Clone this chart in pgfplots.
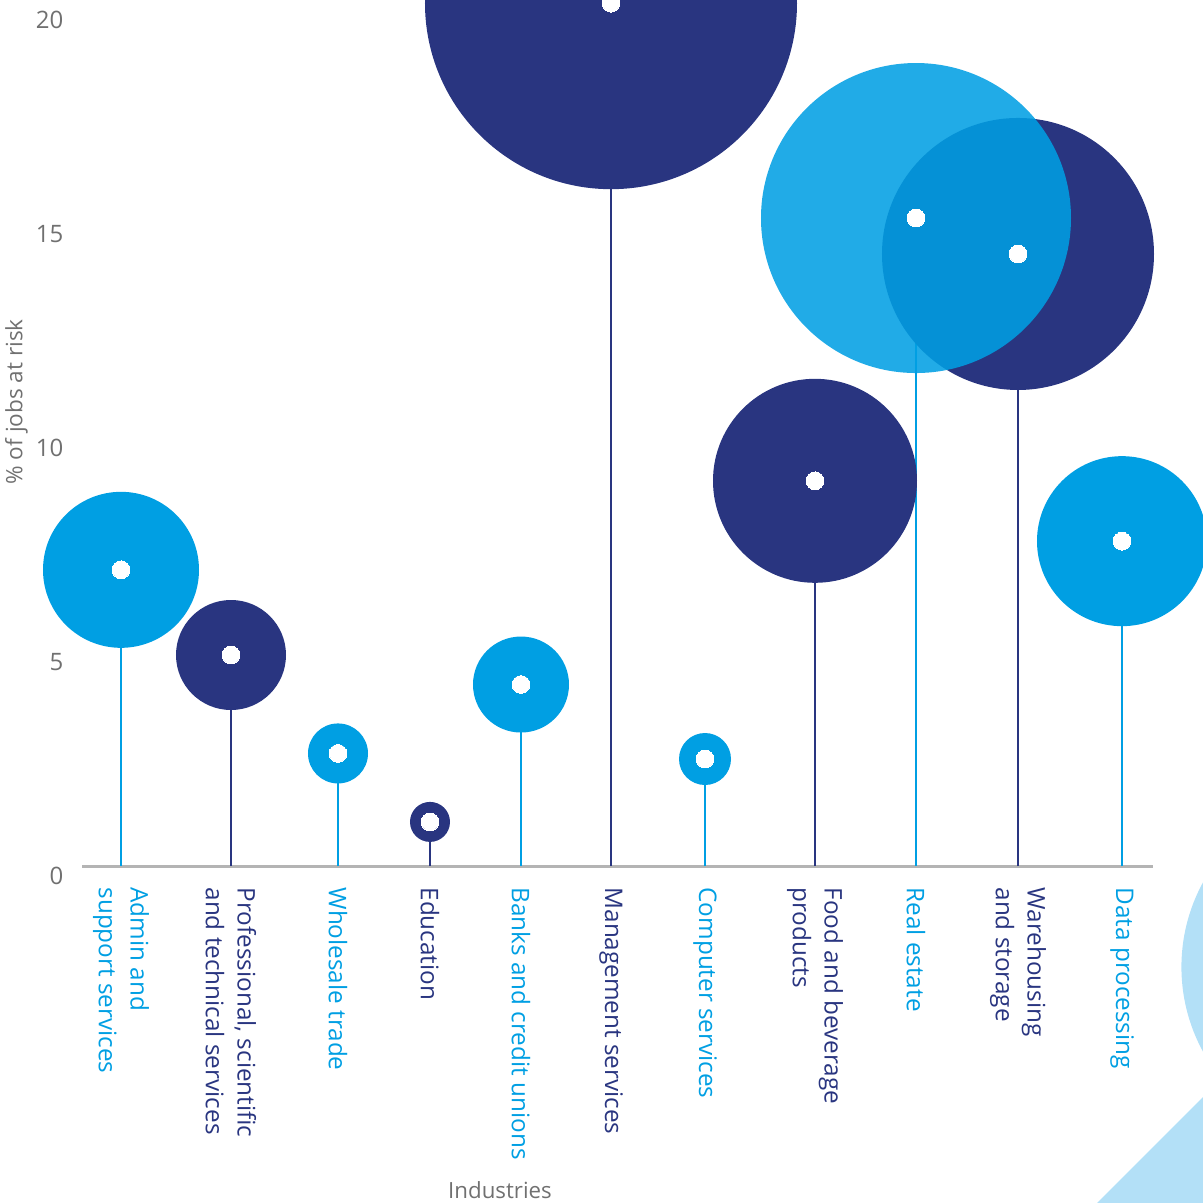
\documentclass[border=0pt]{standalone}
\usepackage{pgfplots}
\usepackage{pgfplotstable}
\pgfplotsset{compat=1.18}
\usepackage{fontspec}
\setmainfont{Open Sans}
\definecolor{lb}{RGB}{0,159,227}
\definecolor{nv}{RGB}{41,53,128}
\definecolor{deco}{RGB}{179,224,247}
\definecolor{txtgray}{RGB}{112,112,112}
\definecolor{axgray}{RGB}{180,180,180}

% x = position of industry, y = % of jobs at risk, r = bubble radius (px)
\pgfplotstableread{
x    y     r
231  4.93  55
430  1.03  20
611  20.16 186
815  9.00  102
1018 14.30 136
}\navydata
\pgfplotstableread{
x    y     r
121  6.92  78
338  2.63  30
521  4.24  48
705  2.50  26
1122 7.59  85
}\lightdata
\pgfplotstableread{
x    y     r
916  15.14 155
}\realdata

\pgfplotsset{
  bub/.style 2 args={scatter, only marks, mark=*,
    scatter/use mapped color={draw=#1, fill=#1, line width=0pt, fill opacity=#2, draw opacity=0},
    visualization depends on={\thisrow{r} \as \rr},
    scatter/@pre marker code/.append style={/tikz/mark size=\rr*0.35pt}},
  stem/.style={ycomb, draw=#1, line width=0.6pt, mark=none},
  dot/.style={only marks, mark=*, mark size=3.1pt, mark options={draw=white, fill=white, line width=0pt}},
}

\begin{document}
\begin{tikzpicture}
\useasboundingbox (0,0) rectangle (421.05pt,421.05pt);
% decorative background shapes
\fill[deco] (475.3pt,82.6pt) circle (61.8pt);
\fill[deco] (382.55pt,-1.4pt) -- (422.45pt,38.5pt) -- (422.45pt,-1.4pt) -- cycle;
\begin{axis}[
  at={(28.7pt,117.95pt)}, anchor=south west,
  scale only axis, width=374.85pt, height=303.1pt,
  clip=false,
  xmin=82, xmax=1153, ymin=0, ymax=20.234,
  axis x line*=bottom, axis y line*=left,
  x axis line style={axgray, line width=1.05pt, -},
  y axis line style={draw=none},
  major tick length=0pt,
  ytick={0,5,10,15,20},
  /pgf/number format/assume math mode=true,
  yticklabel style={text=txtgray, font=\fontsize{8.4}{10}\selectfont, anchor=east, inner sep=0pt, xshift=-6.3pt, yshift=-3.5pt},
  xtick={121,231,338,430,521,611,705,815,916,1018,1122},
  xticklabels={
    {\color{lb}Admin and\\\color{lb}support  services},
    {\color{nv}Professional, scientific\\\color{nv}and technical services},
    {\color{lb}Wholesale trade},
    {\color{nv}Education},
    {\color{lb}Banks and credit unions},
    {\color{nv}Management services},
    {\color{lb}Computer services},
    {\color{nv}Food and beverage\\\color{nv}products},
    {\color{lb}Real estate},
    {\color{nv}Warehousing\\\color{nv}and storage},
    {\color{lb}Data processing}},
  xticklabel style={yshift=-7.35pt, rotate=-90, anchor=west, inner sep=0pt, align=left,
    font=\fontsize{8.5}{11.1}\selectfont},
  ylabel={\% of jobs at risk},
  ylabel style={at={(axis description cs:-0.0612,0.536)}, anchor=center, rotate=0,
    text=txtgray, font=\fontsize{7.9}{9}\selectfont},
  xlabel={Industries},
  xlabel style={at={(axis description cs:0.3903,-0.3741)}, anchor=center,
    text=txtgray, font=\fontsize{7.8}{9}\selectfont},
]
\addplot[stem=lb] table[x=x,y=y] {\lightdata};
\addplot[stem=lb] table[x=x,y=y] {\realdata};
\addplot[stem=nv] table[x=x,y=y] {\navydata};
\addplot[bub={nv}{1}] table[x=x,y=y] {\navydata};
\addplot[bub={lb}{1}] table[x=x,y=y] {\lightdata};
\addplot[bub={lb}{0.87}] table[x=x,y=y] {\realdata};
\addplot[dot] table[x=x,y=y] {\navydata};
\addplot[dot] table[x=x,y=y] {\lightdata};
\addplot[dot] table[x=x,y=y] {\realdata};
\end{axis}
\end{tikzpicture}
\end{document}
